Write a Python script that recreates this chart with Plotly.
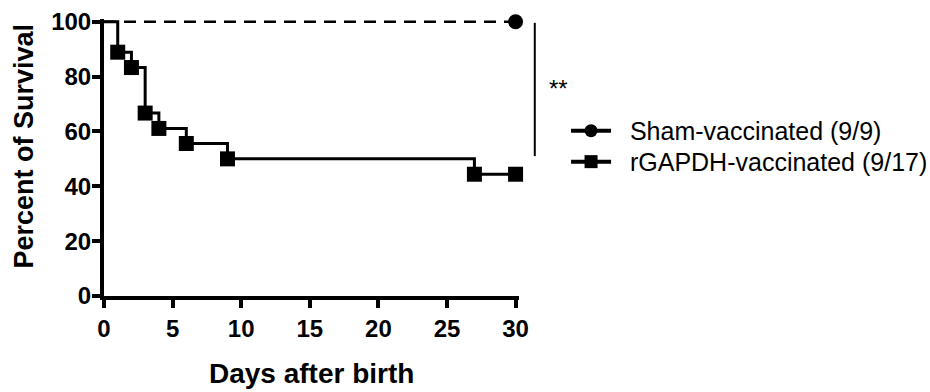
import plotly.graph_objects as go

# ---- data ----
sham_days = [0, 30]
sham_surv = [100, 100]
gapdh_days = [0, 1, 2, 3, 4, 6, 9, 27, 30]
gapdh_surv = [100, 88.9, 83.3, 66.7, 61.1, 55.6, 50.0, 44.4, 44.4]
x_ticks = [0, 5, 10, 15, 20, 25, 30]
y_ticks = [0, 20, 40, 60, 80, 100]
legend_names = ["Sham-vaccinated (9/9)", "rGAPDH-vaccinated (9/17)"]
sig_label = "**"
x_title = "Days after birth"
y_title = "Percent of Survival"

FONT = "Arial, Liberation Sans, sans-serif"
X_RANGE = [0, 30.25]
Y_RANGE = [0, 101]

def px(xv):
    return (xv - X_RANGE[0]) / (X_RANGE[1] - X_RANGE[0])

def py(yv):
    return (yv - Y_RANGE[0]) / (Y_RANGE[1] - Y_RANGE[0])

fig = go.Figure()

# Sham: dashed line + circle at the end
fig.add_trace(go.Scatter(
    x=sham_days, y=sham_surv, mode="lines",
    line=dict(color="black", width=2.5, dash="12px,8px"),
    showlegend=False, hoverinfo="skip"))
fig.add_trace(go.Scatter(
    x=sham_days[-1:], y=sham_surv[-1:], mode="markers",
    marker=dict(symbol="circle", size=15, color="black"),
    cliponaxis=False, showlegend=False))

# rGAPDH: step line + squares at each step
fig.add_trace(go.Scatter(
    x=gapdh_days, y=gapdh_surv, mode="lines", line_shape="hv",
    line=dict(color="black", width=3),
    showlegend=False, hoverinfo="skip"))
fig.add_trace(go.Scatter(
    x=gapdh_days[1:], y=gapdh_surv[1:], mode="markers",
    marker=dict(symbol="square", size=15, color="black"),
    cliponaxis=False, showlegend=False))

# legend-only entries (one legend per row so each row can be placed)
PAD = "\u00a0\u00a0"
fig.add_trace(go.Scatter(
    x=[None], y=[None], mode="lines+markers", name=PAD + legend_names[0],
    line=dict(color="black", width=4),
    marker=dict(symbol="circle", size=13, color="black"), legend="legend"))
fig.add_trace(go.Scatter(
    x=[None], y=[None], mode="lines+markers", name=PAD + legend_names[1],
    line=dict(color="black", width=4),
    marker=dict(symbol="square", size=13, color="black"), legend="legend2"))

axis_common = dict(
    showline=True, linecolor="black", linewidth=4,
    ticks="outside", ticklen=8, tickwidth=3.5, tickcolor="black",
    showgrid=False, zeroline=False,
    tickfont=dict(family=FONT, size=24, color="black", weight="bold"),
)
fig.update_xaxes(range=X_RANGE, tickvals=x_ticks, **axis_common)
fig.update_yaxes(range=Y_RANGE, tickvals=y_ticks, ticklabelstandoff=-4, **axis_common)

# significance bracket
fig.add_shape(type="line", xref="paper", yref="paper",
              x0=px(31.4), x1=px(31.4), y0=py(99.6), y1=py(51),
              line=dict(color="black", width=2))

leg_common = dict(xanchor="left", yanchor="middle",
                  font=dict(family=FONT, size=25, color="black"),
                  bgcolor="rgba(0,0,0,0)", itemwidth=40)

fig.update_layout(
    width=930, height=392,
    margin=dict(l=104, r=411, t=19, b=96, autoexpand=False),
    plot_bgcolor="white", paper_bgcolor="white",
    font=dict(family=FONT, color="black"),
    legend=dict(x=px(33.68), y=py(60.2), **leg_common),
    legend2=dict(x=px(33.68), y=py(48.9), **leg_common),
    annotations=[
        dict(text=sig_label, xref="paper", yref="paper", x=px(33.1), y=py(75.5),
             showarrow=False, font=dict(family=FONT, size=24, color="black"),
             xanchor="center", yanchor="middle"),
        dict(text=x_title, xref="paper", yref="paper", x=px(15.1), y=py(-28.4),
             showarrow=False, font=dict(family=FONT, size=28, color="black", weight="bold"),
             xanchor="center", yanchor="middle"),
        dict(text=y_title, xref="paper", yref="paper", x=px(-5.9), y=py(54.5),
             showarrow=False, textangle=-90,
             font=dict(family=FONT, size=27, color="black", weight="bold"),
             xanchor="center", yanchor="middle"),
    ],
)

fig.write_html("out.html")
